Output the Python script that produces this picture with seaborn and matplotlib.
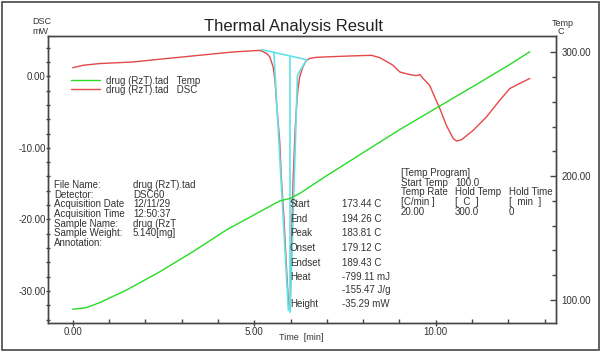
import numpy as np
import pandas as pd
import matplotlib
matplotlib.use("Agg")
import matplotlib.pyplot as plt
import seaborn as sns
from matplotlib.patches import Rectangle
from matplotlib.ticker import MultipleLocator, FixedLocator, FixedFormatter

# ---------------- data ----------------
time_temp = [0.00, 0.37, 0.74, 1.48, 2.40, 3.31, 4.23, 5.15, 5.70, 5.98, 6.25,
             7.00, 8.00, 9.00, 10.10, 11.00, 12.00, 12.59]
temp_c = [92.5, 93.8, 97.8, 108.0, 122.8, 139.0, 156.5, 171.2, 180.0, 182.0, 186.0,
          200.5, 219.0, 237.5, 256.5, 272.0, 289.5, 300.5]

time_dsc = [0.00, 0.29, 0.74, 1.66, 2.58, 3.50, 4.42, 4.88, 5.15, 5.24, 5.35, 5.43,
            5.52, 5.57, 5.61, 5.70, 5.75, 5.82, 5.88, 5.95, 5.97, 5.99, 6.02, 6.07,
            6.12, 6.16, 6.20, 6.25, 6.34, 6.43, 6.53, 6.71, 7.17, 7.70, 8.23, 8.46,
            8.82, 9.01, 9.28, 9.46, 9.56, 9.65, 9.83, 9.97, 10.11, 10.29, 10.48,
            10.57, 10.71, 11.03, 11.39, 11.76, 12.04, 12.31, 12.59]
dsc_mw = [1.20, 1.54, 1.78, 2.00, 2.48, 2.94, 3.40, 3.54, 3.62, 3.45, 3.15, 2.70,
          1.30, -0.50, -3.50, -9.00, -14.50, -20.00, -26.00, -32.30, -32.40, -31.50,
          -24.50, -14.50, -8.00, -4.50, -2.00, -0.10, 1.30, 2.20, 2.50, 2.65, 2.75,
          2.85, 2.93, 2.60, 1.55, 0.60, 0.24, 0.10, 0.24, -0.30, -1.26, -2.90, -4.50,
          -6.85, -8.70, -9.05, -8.85, -7.55, -5.70, -3.36, -1.70, -1.00, -0.30]

# peak analysis construction lines (segment id, time, DSC)
cyan_seg = [0, 0, 1, 1, 2, 2, 3, 3, 3]
cyan_t = [5.20, 6.44, 5.54, 5.94, 5.98, 5.98, 6.44, 6.19, 5.99]
cyan_mw = [3.73, 2.33, 3.36, -32.7, 2.75, -33.0, 2.33, 0.14, -32.9]

x_major = [0, 5, 10]
x_major_labels = ["0.00", "5.00", "10.00"]
y_major = [0, -10, -20, -30]
y_major_labels = ["0.00", "-10.00", "-20.00", "-30.00"]
t_major = [100, 200, 300]
t_major_labels = ["100.00", "200.00", "300.00"]

legend_labels = ["drug (RzT).tad   Temp", "drug (RzT).tad   DSC"]

info_keys = ["File Name:", "Detector:", "Acquisition Date", "Acquisition Time",
             "Sample Name:", "Sample Weight:", "Annotation:"]
info_vals = ["drug (RzT).tad", "DSC60", "12/11/29", "12:50:37", "drug (RzT",
             "5.140[mg]", ""]

peak_keys = ["Start", "End", "Peak", "Onset", "Endset", "Heat", "", "Height"]
peak_vals = ["173.44 C", "194.26 C", "183.81 C", "179.12 C", "189.43 C",
             "-799.11 mJ", "-155.47 J/g", "-35.29 mW"]

prog_rows = [["[Temp Program]", "", ""],
             ["Start Temp", "100.0", ""],
             ["Temp Rate", "Hold Temp", "Hold Time"],
             ["[C/min ]", "[  C  ]", "[  min  ]"],
             ["20.00", "300.0", "0"]]

# ---------------- style ----------------
sns.set_theme(style="white")
plt.rcParams["font.family"] = ["Liberation Sans", "DejaVu Sans"]

GREEN = "#26dc26"
RED = "#e44848"
CYAN = "#62e2e8"
TXT = "#333333"
SPINE = "#444444"
W, H = 605, 362

fig = plt.figure(figsize=(6.05, 3.62), dpi=100)
fig.patch.set_facecolor("white")
ax = fig.add_axes([48 / W, 1 - 323 / H, (556 - 48) / W, (323 - 36) / H])
ax2 = ax.twinx()
ax.set_facecolor("white")

df_dsc = pd.DataFrame({"time": time_dsc, "dsc": dsc_mw})
df_temp = pd.DataFrame({"time": time_temp, "temp": temp_c})
df_cyan = pd.DataFrame({"seg": cyan_seg, "time": cyan_t, "dsc": cyan_mw})

sns.lineplot(data=df_dsc, x="time", y="dsc", ax=ax, color=RED, lw=1.0,
             estimator=None, sort=False, zorder=2)
sns.lineplot(data=df_cyan, x="time", y="dsc", units="seg", ax=ax, color=CYAN,
             lw=1.2, estimator=None, sort=False, zorder=3)
sns.lineplot(data=df_temp, x="time", y="temp", ax=ax2, color=GREEN, lw=1.0,
             estimator=None, sort=False)

ax.set_xlim(-0.68, 13.31)
ax.set_ylim(-34.47, 5.63)
ax2.set_ylim(81.4, 313.2)
for a in (ax, ax2):
    a.set_xlabel("")
    a.set_ylabel("")
    for s in a.spines.values():
        s.set_color(SPINE)
        s.set_linewidth(1.0)
        s.set_visible(True)

ax.xaxis.set_major_locator(FixedLocator(x_major))
ax.xaxis.set_major_formatter(FixedFormatter(x_major_labels))
ax.xaxis.set_minor_locator(MultipleLocator(1))
ax.yaxis.set_major_locator(FixedLocator(y_major))
ax.yaxis.set_major_formatter(FixedFormatter(y_major_labels))
ax.yaxis.set_minor_locator(MultipleLocator(2))
ax2.yaxis.set_major_locator(FixedLocator(t_major))
ax2.yaxis.set_major_formatter(FixedFormatter(t_major_labels))
ax2.yaxis.set_minor_locator(MultipleLocator(20))

ax.tick_params(axis="x", which="major", direction="inout", length=4, width=1,
               color=SPINE, labelsize=7, labelcolor=TXT, pad=1, bottom=True)
ax.tick_params(axis="x", which="minor", direction="in", length=3, width=1,
               color=SPINE, bottom=True)
ax.tick_params(axis="y", which="both", direction="inout", length=3.5, width=1,
               color=SPINE, labelsize=7, labelcolor=TXT, pad=0, left=True)
ax2.tick_params(axis="y", which="major", direction="in", length=4, width=1,
                color=SPINE, labelsize=7, labelcolor=TXT, pad=4, right=True)
ax2.tick_params(axis="y", which="minor", direction="in", length=3, width=1,
                color=SPINE, right=True)

# legend
handles = [ax2.get_lines()[0], ax.get_lines()[0]]
leg = ax.legend(handles, legend_labels, loc="center left",
                bbox_to_anchor=(71 / W, 1 - 85.3 / H),
                bbox_transform=fig.transFigure, frameon=False, fontsize=7,
                handlelength=3.0, handletextpad=0.55, labelspacing=-0.1,
                borderpad=0, borderaxespad=0)
for t in leg.get_texts():
    t.set_color(TXT)
leg.set_zorder(5)


def ftext(x, y, s, **kw):
    kw.setdefault("fontsize", 7)
    kw.setdefault("color", TXT)
    kw.setdefault("va", "center")
    kw.setdefault("ha", "left")
    fig.text(x / W, 1 - y / H, s, **kw)


ftext(294, 26.5, "Thermal Analysis Result", fontsize=12, ha="center", color="#222222")
ftext(42, 22, "DSC", ha="center", fontsize=6.5)
ftext(40, 32, "mW", ha="center", fontsize=6.5)
ftext(563, 23, "Temp", ha="center", fontsize=6.5)
ftext(561, 31.5, "C", ha="center", fontsize=6.5)
ftext(301, 337, "Time  [min]", ha="center", fontsize=6.5)

info_y = [185.0, 194.7, 204.3, 213.8, 223.6, 233.3, 243.2]
for k, v, y in zip(info_keys, info_vals, info_y):
    ftext(54, y, k)
    ftext(133, y, v)

peak_y = [204, 218.7, 233.3, 248, 262.7, 277.3, 290.3, 304.3]
for k, v, y in zip(peak_keys, peak_vals, peak_y):
    ftext(290, y, k)
    ftext(342.5, y, v)

prog_x = [401, 455, 509]
prog_y = [173.3, 182.9, 192.4, 202.0, 211.7]
for row, y in zip(prog_rows, prog_y):
    for s, x in zip(row, prog_x):
        if s:
            ftext(x, y, s)

# outer frame
fig.patches.append(Rectangle((1.5 / W, 1 - 350 / H), (598.5 - 1.5) / W, (350 - 1.5) / H,
                             transform=fig.transFigure, fill=False,
                             edgecolor="#555555", linewidth=1.3, zorder=10))

fig.savefig("out.png", dpi=100, facecolor="white")
